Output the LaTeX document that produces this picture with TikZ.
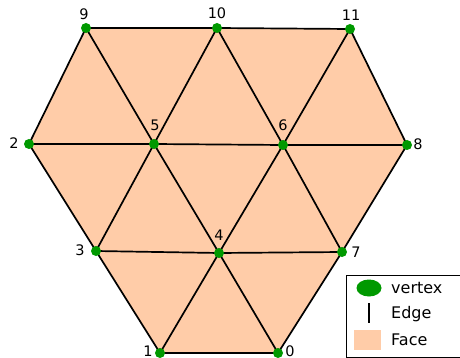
\documentclass[tikz,border=0pt]{standalone}
\usepackage{fontspec}
\setmainfont{DejaVu Sans}
\usetikzlibrary{shapes.geometric}
\definecolor{facec}{RGB}{255,204,168}
\definecolor{vertc}{RGB}{0,153,0}
\begin{document}
\begin{tikzpicture}[x=1pt,y=-1pt,
  vtx/.style={circle,fill=vertc,inner sep=0pt,minimum size=10pt},
  lab/.style={font=\fontsize{14.5}{14.5}\selectfont,inner sep=0pt},
  edge/.style={line width=1.7pt,black},
  legtext/.style={font=\fontsize{16}{16}\selectfont,anchor=west,inner sep=0pt}]
\useasboundingbox (0,0) rectangle (460,358);
\coordinate (p9) at (86,28);
\coordinate (p10) at (217,28);
\coordinate (p11) at (350,29);
\coordinate (p2) at (29,144);
\coordinate (p5) at (154,144);
\coordinate (p6) at (283,145);
\coordinate (p8) at (407,145);
\coordinate (p3) at (96,251);
\coordinate (p4) at (219,253);
\coordinate (p7) at (342,252);
\coordinate (p1) at (160,353);
\coordinate (p0) at (278,353);
\fill[facec] (p9) -- (p10) -- (p11) -- (p8) -- (p7) -- (p0) -- (p1) -- (p3) -- (p2) -- cycle;
\draw[edge] (p9) -- (p10) -- (p11);
\draw[edge] (p2) -- (p5) -- (p6) -- (p8);
\draw[edge] (p3) -- (p4) -- (p7);
\draw[edge] (p1) -- (p0);
\draw[edge] (p9) -- (p2) -- (p3) -- (p1);
\draw[edge] (p11) -- (p8) -- (p7) -- (p0);
\draw[edge] (p9) -- (p5) -- (p4) -- (p0);
\draw[edge] (p10) -- (p5) -- (p3);
\draw[edge] (p10) -- (p6) -- (p7);
\draw[edge] (p11) -- (p6) -- (p4) -- (p1);
\foreach \n in {0,...,11} {\node[vtx] (v\n) at (p\n) {};}
\node[lab] (l9) at (84,14) {9};
\node[lab] (l10) at (217,13) {10};
\node[lab] (l11) at (351,15) {11};
\node[lab] (l2) at (14,143) {2};
\node[lab] (l5) at (155,125) {5};
\node[lab] (l6) at (283,125) {6};
\node[lab] (l8) at (418,144) {8};
\node[lab] (l3) at (80,250) {3};
\node[lab] (l4) at (219,235) {4};
\node[lab] (l7) at (356,252) {7};
\node[lab] (l1) at (148,351) {1};
\node[lab] (l0) at (290,351) {0};
% legend
\draw[line width=1pt] (346,275) rectangle (466,357);
\node[ellipse,fill=vertc,minimum width=25pt,minimum height=17pt,inner sep=0pt] (lv) at (369,288) {};
\coordinate (le1) at (369,303);
\coordinate (le2) at (369,323);
\draw[line width=2pt] (le1) -- (le2);
\node[fill=facec,minimum width=27pt,minimum height=20pt,inner sep=0pt] (lf) at (367.5,340) {};
\node[legtext] (tv) at (391,288) {vertex};
\node[legtext] (te) at (391,314) {Edge};
\node[legtext] (tf) at (391,340) {Face};
\end{tikzpicture}
\end{document}
